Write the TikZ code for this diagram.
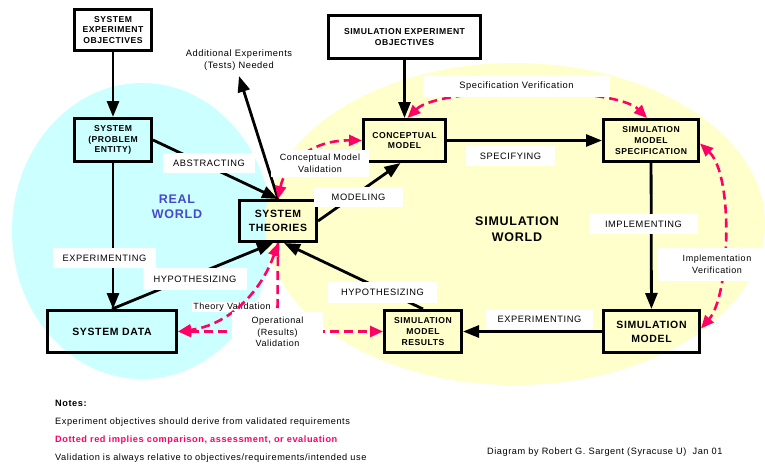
\documentclass[tikz,border=0pt]{standalone}
\usepackage{fontspec}
\setmainfont{Liberation Sans}[LetterSpace=6]
\usetikzlibrary{positioning, arrows.meta, backgrounds}
\pgfdeclarelayer{lineas}
\pgfsetlayers{background,lineas,main}
\definecolor{cianclaro}{RGB}{204,255,255}
\definecolor{amarilloclaro}{RGB}{255,255,204}
\definecolor{rosa}{RGB}{255,0,102}
\definecolor{azulmundo}{RGB}{72,72,204}

\begin{document}
\begin{tikzpicture}[
		x=1pt, y=-1pt,
		% Cajas de los elementos del proceso
		caja/.style={draw, line width=3.3pt, align=center, inner sep=0pt, font=\bfseries\fontsize{8.6}{10.8}\selectfont},
		caja_grande/.style={caja, font=\bfseries\fontsize{10.5}{14}\selectfont},
		% Etiquetas sobre fondo blanco
		etiqueta/.style={fill=white, inner sep=0pt, align=center, font=\fontsize{9.3}{11.5}\selectfont},
		mundo/.style={align=center, font=\bfseries\fontsize{12.5}{15.5}\selectfont},
		nota/.style={anchor=west, inner sep=0pt, font=\fontsize{9.2}{11}\selectfont},
		% Flechas negras y discontinuas rojas
		flecha/.style={-{Triangle[length=16pt,width=12pt]}, line width=2.8pt},
		flecha_roja/.style={{Triangle[length=13pt,width=11pt]}-{Triangle[length=13pt,width=11pt]}, line width=2.6pt, draw=rosa, dash pattern=on 9pt off 5pt},
		linea_roja/.style={line width=2.6pt, draw=rosa, dash pattern=on 9pt off 5pt}
		]
		\useasboundingbox (0,0) rectangle (765,463);
		
		% --- MUNDOS (FONDO) ---
		\begin{scope}[on background layer]
			\fill[cianclaro] (142,231) ellipse [x radius=130pt, y radius=148pt];
			\fill[amarilloclaro] (515,224) ellipse [x radius=250pt, y radius=161pt];
			\node[etiqueta, inner sep=1pt, font=\fontsize{9}{10}\selectfont] (val_teoria) at (232,307) {Theory Validation};
		\end{scope}
		\node[mundo, text=azulmundo] (real) at (177,207) {REAL\\WORLD};
		\node[mundo] (simulacion) at (517,229) {SIMULATION\\WORLD};
		
		% --- MUNDO REAL ---
		\node[caja, minimum width=76.7pt, minimum height=40.7pt] (obj_sistema) at (113,30) {SYSTEM\\EXPERIMENT\\OBJECTIVES};
		\node[caja, minimum width=76.7pt, minimum height=42.7pt] (sistema) at (113,140) {SYSTEM\\(PROBLEM\\ENTITY)};
		\node[caja_grande, minimum width=76.7pt, minimum height=40.7pt] (teorias) at (278,221) {SYSTEM\\THEORIES};
		\node[caja_grande, minimum width=128.7pt, minimum height=41.7pt] (datos) at (112,331.5) {SYSTEM DATA};
		
		% --- MUNDO DE SIMULACION ---
		\node[caja, minimum width=151.7pt, minimum height=42.7pt] (obj_simulacion) at (404.5,37) {SIMULATION EXPERIMENT\\OBJECTIVES};
		\node[caja, minimum width=81.7pt, minimum height=41.7pt] (conceptual) at (404.5,140.5) {CONCEPTUAL\\MODEL};
		\node[caja, minimum width=94.7pt, minimum height=41.7pt] (especificacion) at (651,140.5) {SIMULATION\\MODEL\\SPECIFICATION};
		\node[caja, minimum width=76.7pt, minimum height=41.7pt] (resultados) at (423,331.5) {SIMULATION\\MODEL\\RESULTS};
		\node[caja_grande, minimum width=95.7pt, minimum height=41.7pt] (modelo) at (651.5,331.5) {SIMULATION\\MODEL};
		
		% --- ETIQUETAS DE LAS TRANSICIONES ---
		\node[etiqueta, fill=none] (adicional) at (239,60) {Additional Experiments\\(Tests) Needed};
		\coordinate (punta_adicional) at (239,76);
		\node[etiqueta, minimum width=92pt, minimum height=20pt] (abstrayendo) at (209,163) {ABSTRACTING};
		\node[etiqueta, minimum width=103pt, minimum height=20pt] (exp_real) at (104.5,258) {EXPERIMENTING};
		\node[etiqueta, minimum width=104pt, minimum height=22pt] (hip_real) at (195,279) {HYPOTHESIZING};
		\node[etiqueta, minimum width=89pt, minimum height=20pt] (modelando) at (358.5,197) {MODELING};
		\node[etiqueta, minimum width=89pt, minimum height=20pt] (especificando) at (510.5,156) {SPECIFYING};
		\node[etiqueta, minimum width=109pt, minimum height=20pt] (implementando) at (643.5,224) {IMPLEMENTING};
		\node[etiqueta, minimum width=107pt, minimum height=19pt] (exp_sim) at (539.5,319.5) {EXPERIMENTING};
		\node[etiqueta, minimum width=109pt, minimum height=21pt] (hip_sim) at (382.5,292.5) {HYPOTHESIZING};
		
		% Etiquetas de validacion y verificacion
		\node[etiqueta, minimum width=98pt, minimum height=27pt, font=\fontsize{9}{12}\selectfont] (val_conceptual) at (320,163.5) {Conceptual Model\\Validation};
		\node[etiqueta, minimum width=187pt, minimum height=21pt, font=\fontsize{9.3}{10}\selectfont] (verif_espec) at (516.5,86.5) {Specification Verification};
		\node[etiqueta, minimum width=118pt, minimum height=33pt, font=\fontsize{9}{12}\selectfont] (verif_impl) at (717,264.5) {Implementation\\Verification};
		\node[etiqueta, minimum width=91pt, minimum height=40pt, font=\fontsize{9}{11.5}\selectfont] (val_operacional) at (277.5,332) {Operational\\(Results)\\Validation};
		
		% --- CONEXIONES ---
		\begin{pgfonlayer}{lineas}
			% Flujo del mundo real
			\draw[flecha] (obj_sistema) -- (sistema);
			\draw[flecha] (sistema.south) -- (sistema.south |- datos.north);
			\draw[flecha] (sistema.east) -- (teorias.north);
			\draw[flecha] (datos.north) -- ([xshift=-5pt]teorias.south);
			\draw[flecha] (teorias.north) -- (punta_adicional);
			
			% Flujo del mundo de simulacion
			\draw[flecha] (obj_simulacion) -- (conceptual);
			\draw[flecha] (teorias.east) -- ([xshift=-4pt]conceptual.south);
			\draw[flecha] (conceptual) -- (especificacion);
			\draw[flecha] (especificacion) -- (modelo);
			\draw[flecha] (modelo) -- (resultados);
			\draw[flecha] (resultados.north) -- ([xshift=6pt]teorias.south);
			
			% Comparaciones (rojo discontinuo)
			\draw[flecha_roja] ([xshift=3pt]conceptual.north) .. controls (440,86) and (615,86) .. ([xshift=-4pt]especificacion.north);
			\draw[flecha_roja] ([yshift=-3pt]especificacion.east) .. controls (734,175) and (730,295) .. ([yshift=3pt]modelo.east);
			\draw[flecha_roja] (teorias.north) .. controls (285,165) and (310,140) .. (conceptual.west);
			\draw[flecha_roja] (teorias.south) .. controls (262,290) and (230,325) .. (datos.east);
			\draw[flecha_roja] (datos.east) -- (resultados.west);
			\draw[linea_roja] (teorias.south) -- (val_operacional.north);
		\end{pgfonlayer}
		
		% --- NOTAS ---
		\node[nota, font=\bfseries\fontsize{9.2}{11}\selectfont] (notas) at (55,403) {Notes:};
		\node[nota] (nota_objetivos) at (55,422) {Experiment objectives should derive from validated requirements};
		\node[nota, text=rosa, font=\bfseries\fontsize{9.2}{11}\selectfont] (nota_rojo) at (55,440) {Dotted red implies comparison, assessment, or evaluation};
		\node[nota] (nota_validacion) at (55,458) {Validation is always relative to objectives/requirements/intended use};
		\node[nota] (autor) at (487,452) {Diagram by Robert G. Sargent (Syracuse U)\ \ Jan 01};
		
	\end{tikzpicture}
\end{document}
